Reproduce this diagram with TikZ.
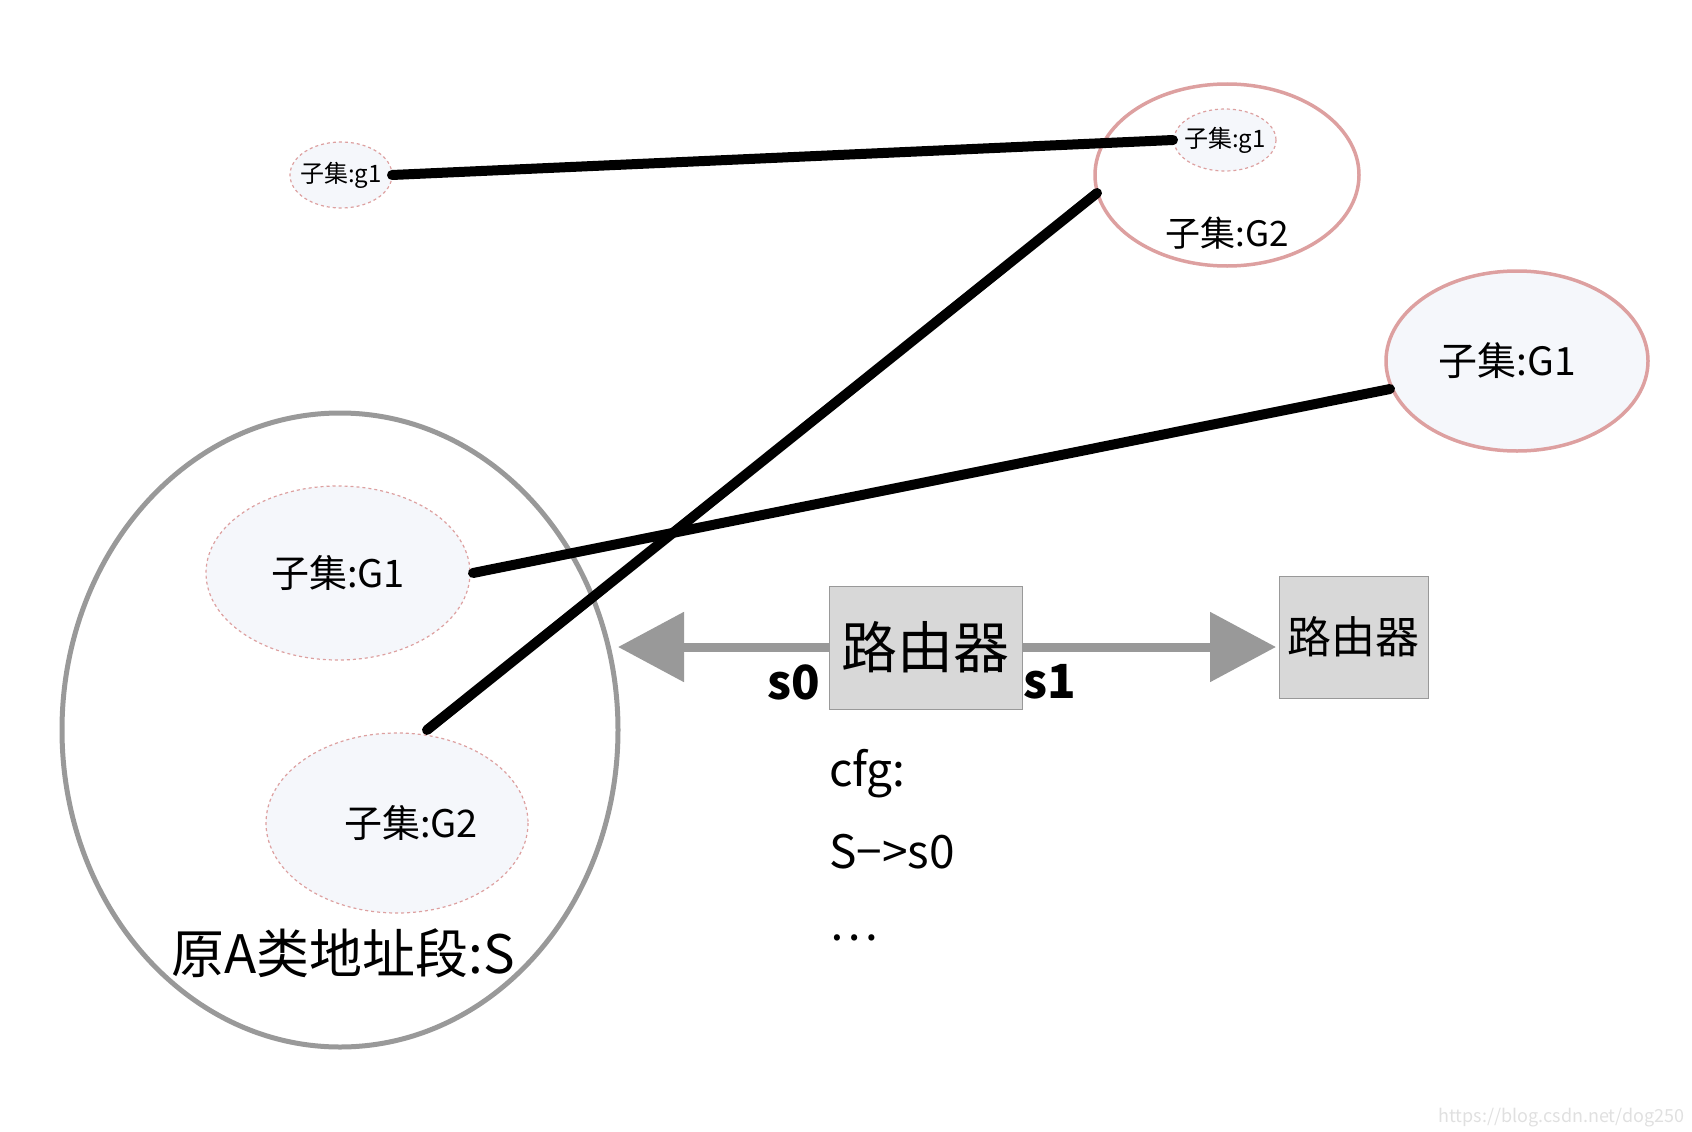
\documentclass[tikz,border=0pt]{standalone}
\usepackage{fontspec}
\setmainfont{Noto Sans CJK SC}
\usetikzlibrary{arrows.meta}
\definecolor{pk}{HTML}{DDA0A0}
\definecolor{fl}{HTML}{F5F7FB}
\definecolor{gr}{HTML}{999999}
\definecolor{bx}{HTML}{D8D8D8}
\begin{document}
\begin{tikzpicture}[x=1pt,y=-1pt,
 dpk/.style={draw=pk,dashed,line width=1.2pt,fill=fl},
 solidpk/.style={draw=pk,line width=3.5pt,fill=fl},
 blk/.style={line width=10pt,line cap=round},
 fs/.style={font=\fontsize{#1}{#1}\selectfont},
 box/.style={draw=gr,fill=bx,line width=1pt,inner sep=0pt},
 garr/.style={draw=gr,line width=9pt,-{Triangle[length=66pt,width=68pt]}}]
\useasboundingbox (0,0) rectangle (1692,1132);
\begin{scope}[xshift=-4pt,yshift=2pt]
% ellipses
\draw[gr,line width=5pt] (344,732) ellipse[x radius=278,y radius=317];
\draw[dpk] (342,575) ellipse[x radius=132,y radius=87];
\draw[dpk] (401,825) ellipse[x radius=131,y radius=90];
\draw[dpk] (345,177) ellipse[x radius=51,y radius=33];
\draw[solidpk,fill=white] (1231,177) ellipse[x radius=132,y radius=91];
\draw[dpk] (1229,142) ellipse[x radius=51,y radius=31];
\draw[solidpk] (1521,363) ellipse[x radius=131,y radius=90];
% texts
\node[fs=38] (tG1) at (342,575) {子集:G1};
\node[fs=38] (tG2) at (415,825) {子集:G2};
\node[fs=53] (tS) at (347,955) {原A类地址段:S};
\node[fs=24] (tg1a) at (345,177) {子集:g1};
\node[fs=24] (tg1b) at (1229,142) {子集:g1};
\node[fs=35] (tG2b) at (1231,235) {子集:G2};
\node[fs=39] (tG1b) at (1511,363) {子集:G1};
% routers
\node[box,minimum width=193pt,minimum height=123pt,fs=56] (r1) at (929.5,649.5) {路由器};
\node[box,minimum width=149pt,minimum height=122pt,fs=44] (r2) at (1357.5,639) {路由器};
\coordinate (la) at (622,649);
\coordinate (ra) at (1280,649);
\draw[garr] (r1.west|-la) -- (la);
\draw[garr] (r1.east|-ra) -- (ra);
\node[font=\bfseries\fontsize{47}{47}\selectfont] (s0) at (798,684) {s0};
\node[font=\bfseries\fontsize{47}{47}\selectfont] (s1) at (1054,684) {s1};
\node[fs=46,anchor=west,inner sep=0pt] (c1) at (833,776) {cfg:};
\node[fs=46,anchor=west,inner sep=0pt] (c2) at (833,854) {S−>s0};
\node[fs=46,anchor=west,inner sep=0pt] (c3) at (833,940) {…};
% black lines
\coordinate (p1) at (396,177); \coordinate (p2) at (1177,142);
\coordinate (p3) at (1101,195); \coordinate (p4) at (431,732);
\coordinate (p5) at (1394,391); \coordinate (p6) at (477,575);
\draw[blk] (p1) -- (p2);
\draw[blk] (p3) -- (p4);
\draw[blk] (p5) -- (p6);
\end{scope}
\node[text=black!12,fs=18,anchor=east] (wm) at (1688,1118) {https://blog.csdn.net/dog250};
\end{tikzpicture}
\end{document}
